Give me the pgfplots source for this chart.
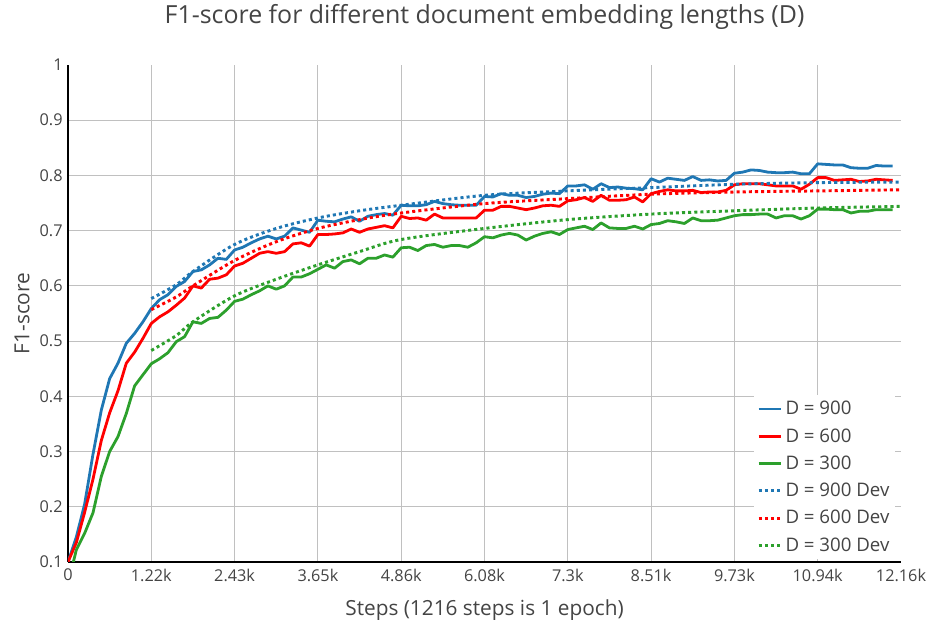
\documentclass[border=0pt]{standalone}
\usepackage{fontspec}
\setmainfont{Open Sans}
\usepackage{pgfplots}
\pgfplotsset{compat=1.18}
\usepackage{pgfplotstable}
\definecolor{cb}{HTML}{1F77B4}
\definecolor{cr}{HTML}{FF0000}
\definecolor{cg}{HTML}{2CA02C}
\definecolor{txt}{HTML}{444444}
\definecolor{gridc}{HTML}{C0C0C0}

\pgfplotstableread{
x b r g
0 0.100 0.100 0.060
121.6 0.145 0.135 0.122
243.2 0.205 0.190 0.152
364.8 0.295 0.250 0.189
486.4 0.375 0.320 0.255
608 0.432 0.370 0.300
729.6 0.460 0.410 0.327
851.2 0.496 0.460 0.369
972.8 0.514 0.480 0.419
1094.4 0.535 0.505 0.439
1216 0.559 0.532 0.459
1337.6 0.575 0.544 0.468
1459.2 0.584 0.553 0.479
1580.8 0.599 0.565 0.499
1702.4 0.608 0.578 0.508
1824 0.626 0.600 0.535
1945.6 0.629 0.596 0.532
2067.2 0.638 0.612 0.541
2188.8 0.650 0.614 0.543
2310.4 0.648 0.620 0.556
2432 0.665 0.636 0.572
2553.6 0.670 0.641 0.576
2675.2 0.678 0.650 0.584
2796.8 0.685 0.659 0.591
2918.4 0.690 0.662 0.600
3040 0.685 0.659 0.594
3161.6 0.690 0.662 0.600
3283.2 0.705 0.676 0.616
3404.8 0.701 0.678 0.616
3526.4 0.697 0.672 0.622
3648 0.719 0.693 0.630
3769.6 0.717 0.693 0.638
3891.2 0.716 0.694 0.632
4012.8 0.721 0.696 0.644
4134.4 0.725 0.703 0.647
4256 0.717 0.697 0.640
4377.6 0.726 0.703 0.650
4499.2 0.729 0.706 0.650
4620.8 0.731 0.709 0.656
4742.4 0.728 0.705 0.652
4864 0.746 0.726 0.669
4985.6 0.745 0.722 0.670
5107.2 0.745 0.723 0.664
5228.8 0.747 0.719 0.673
5350.4 0.753 0.730 0.675
5472 0.749 0.723 0.670
5593.6 0.747 0.723 0.673
5715.2 0.746 0.723 0.673
5836.8 0.746 0.723 0.670
5958.4 0.746 0.723 0.678
6080 0.762 0.737 0.689
6201.6 0.761 0.737 0.687
6323.2 0.767 0.744 0.692
6444.8 0.764 0.744 0.695
6566.4 0.764 0.741 0.692
6688 0.760 0.738 0.683
6809.6 0.762 0.741 0.690
6931.2 0.766 0.745 0.695
7052.8 0.768 0.746 0.698
7174.4 0.767 0.744 0.693
7296 0.781 0.754 0.702
7417.6 0.781 0.756 0.705
7539.2 0.783 0.760 0.708
7660.8 0.775 0.753 0.702
7782.4 0.785 0.764 0.714
7904 0.778 0.755 0.705
8025.6 0.779 0.755 0.704
8147.2 0.777 0.756 0.704
8268.8 0.776 0.761 0.708
8390.4 0.774 0.752 0.703
8512 0.794 0.767 0.711
8633.6 0.788 0.771 0.713
8755.2 0.795 0.774 0.718
8876.8 0.793 0.772 0.716
8998.4 0.791 0.772 0.713
9120 0.798 0.773 0.723
9241.6 0.791 0.769 0.718
9363.2 0.792 0.770 0.718
9484.8 0.790 0.770 0.719
9606.4 0.791 0.773 0.723
9728 0.804 0.783 0.727
9849.6 0.806 0.785 0.729
9971.2 0.810 0.785 0.729
10092.8 0.809 0.785 0.730
10214.4 0.806 0.783 0.730
10336 0.805 0.781 0.723
10457.6 0.805 0.781 0.727
10579.2 0.806 0.781 0.727
10700.8 0.803 0.775 0.721
10822.4 0.803 0.784 0.727
10944 0.821 0.796 0.739
11065.6 0.820 0.796 0.739
11187.2 0.819 0.791 0.738
11308.8 0.819 0.792 0.738
11430.4 0.814 0.793 0.732
11552 0.813 0.789 0.735
11673.6 0.813 0.790 0.735
11795.2 0.818 0.793 0.738
11916.8 0.817 0.792 0.738
12038.4 0.817 0.791 0.738
}\train

\pgfplotstableread{
x b r g
1216 0.577 0.557 0.483
1580.8 0.602 0.580 0.510
1824 0.626 0.600 0.535
2432 0.675 0.646 0.582
3040 0.704 0.680 0.612
3648 0.723 0.704 0.638
4256 0.736 0.720 0.662
4864 0.746 0.732 0.684
6080 0.764 0.749 0.704
7296 0.772 0.758 0.720
8512 0.778 0.766 0.730
9728 0.784 0.770 0.736
10944 0.787 0.772 0.741
12160 0.788 0.774 0.744
}\dev

\begin{document}
\begin{tikzpicture}
\begin{axis}[
  scale only axis, width=624.75pt, height=372.75pt,
  xmin=0, xmax=12160, ymin=0.1, ymax=1,
  scaled x ticks=false, scaled y ticks=false,
  axis x line*=bottom, axis y line*=left,
  axis line style={black, line width=1.1pt, -},
  xtick={1216,2432,3648,4864,6080,7296,8512,9728,10944},
  xticklabels={1.22k,2.43k,3.65k,4.86k,6.08k,7.3k,8.51k,9.73k,10.94k},
  extra x ticks={0,12160},
  extra x tick labels={0,12.16k},
  extra x tick style={grid=none},
  ytick={0.2,0.3,0.4,0.5,0.6,0.7,0.8,0.9},
  yticklabels={0.2,0.3,0.4,0.5,0.6,0.7,0.8,0.9},
  extra y ticks={0.1,1},
  extra y tick labels={0.1,1},
  extra y tick style={grid=none},
  major tick length=0pt,
  tick style={draw=none},
  grid=major,
  grid style={gridc, line width=0.85pt},
  ticklabel style={font=\fontsize{12.2}{14}\selectfont, text=txt},
  xticklabel style={yshift=-1.5pt},
  yticklabel style={xshift=-0.5pt},
  every axis title shift=0pt,
  title={F1-score for different document embedding lengths (D)},
  title style={at={(axis description cs:0.5,1.0966)}, anchor=center, font=\fontsize{18.7}{21}\selectfont, text=txt},
  xlabel={Steps (1216 steps is 1 epoch)},
  xlabel style={at={(axis description cs:0.5,-0.0966)}, anchor=center, font=\fontsize{15.6}{18}\selectfont, text=txt},
  ylabel={F1-score},
  ylabel style={at={(axis description cs:-0.0552,0.5)}, anchor=center, font=\fontsize{15.6}{18}\selectfont, text=txt},
  legend style={at={(0.823,0.336)}, anchor=north west, draw=none, fill=white,
    font=\fontsize{14}{16}\selectfont, text=txt, row sep=4.8pt, inner sep=2.5pt},
  legend cell align=left,
  legend image code/.code={\draw[#1] (0cm,0cm) -- (0.6cm,0cm);},
  every axis plot/.append style={line join=round},
]
\coordinate (ll) at (rel axis cs:0,0);
\coordinate (ur) at (rel axis cs:1,1);
\addplot[cb, line width=2.1pt] table[x=x, y=b] {\train};
\addlegendentry{D = 900}
\addplot[cr, line width=2.1pt] table[x=x, y=r] {\train};
\addlegendentry{D = 600}
\addplot[cg, line width=2.1pt] table[x=x, y=g] {\train};
\addlegendentry{D = 300}
\addplot[cb, line width=2.2pt, smooth, dash pattern=on 2.3pt off 2.3pt] table[x=x, y=b] {\dev};
\addlegendentry{D = 900 Dev}
\addplot[cr, line width=2.2pt, smooth, dash pattern=on 2.3pt off 2.3pt] table[x=x, y=r] {\dev};
\addlegendentry{D = 600 Dev}
\addplot[cg, line width=2.2pt, smooth, dash pattern=on 2.3pt off 2.3pt] table[x=x, y=g] {\dev};
\addlegendentry{D = 300 Dev}
\end{axis}
\pgfresetboundingbox
\path[use as bounding box] ([xshift=-51pt,yshift=-48.75pt]ll) rectangle ([xshift=23.25pt,yshift=48.75pt]ur);
\end{tikzpicture}
\end{document}
